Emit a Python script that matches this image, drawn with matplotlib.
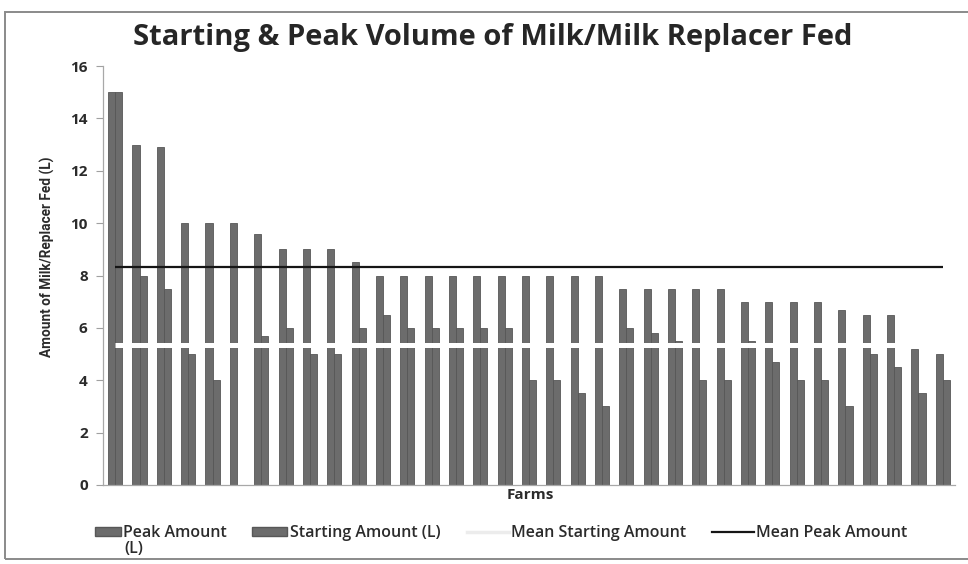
import numpy as np
import matplotlib
matplotlib.use("Agg")
import matplotlib.pyplot as plt
from matplotlib.patches import Patch, Rectangle
from matplotlib.lines import Line2D

# Farms, sorted by peak volume fed (litres)
farms = list(range(1, 36))
peak_amount = [15, 13, 12.9, 10, 10, 10, 9.6, 9, 9, 9, 8.5,
               8, 8, 8, 8, 8, 8, 8, 8, 8, 8,
               7.5, 7.5, 7.5, 7.5, 7.5, 7, 7, 7, 7,
               6.7, 6.5, 6.5, 5.2, 5.0]
starting_amount = [15, 8, 7.5, 5, 4, np.nan, 5.7, 6, 5, 5, 6,
                   6.5, 6, 6, 6, 6, 6, 4, 4, 3.5, 3,
                   6, 5.8, 5.5, 4, 4, 5.5, 4.7, 4, 4,
                   3, 5, 4.5, 3.5, 4]
y_ticks = [0, 2, 4, 6, 8, 10, 12, 14, 16]

peak = np.array(peak_amount, dtype=float)
start = np.array(starting_amount, dtype=float)
mean_peak = np.nanmean(peak)
mean_start = np.nanmean(start)

BAR = "#6c6c6c"
EDGE = "#575757"
TXT = "#2b2b2b"
FONT = ["Open Sans", "DejaVu Sans"]
LEG_SIZE = 11.5

fig = plt.figure(figsize=(9.68, 5.64), dpi=100)
fig.patch.set_facecolor("white")

# outer chart frame
fig.add_artist(Rectangle((5 / 968, 5 / 564), 970 / 968, 547 / 564,
                         transform=fig.transFigure, fill=False,
                         edgecolor="#8a8a8a", linewidth=1.4))

ax = fig.add_axes([103 / 968, 1 - 485 / 564, 852 / 968, (485 - 66) / 564])
x = np.arange(len(farms))
w = 0.29
ax.bar(x - w / 2, peak, width=w, color=BAR, edgecolor=EDGE, linewidth=0.6,
       zorder=2)
ax.bar(x + w / 2, np.nan_to_num(start), width=w, color=BAR, edgecolor=EDGE,
       linewidth=0.6, zorder=2)
ax.plot(x, np.full(len(x), mean_start), color="white", linewidth=3.6,
        zorder=3, solid_capstyle="butt")
ax.plot(x, np.full(len(x), mean_peak), color="#151515", linewidth=1.6,
        zorder=4, solid_capstyle="butt")

ax.set_xlim(-0.5, len(farms) - 0.5)
ax.set_ylim(0, 16)
ax.set_yticks(y_ticks)
ax.set_yticklabels([str(t) for t in y_ticks], fontfamily=FONT,
                   fontweight="bold", fontsize=11, color=TXT)
ax.set_xticks([])
ax.tick_params(axis="y", direction="out", length=5, width=0.8,
               color="#a0a0a0", pad=6)
for side in ("top", "right"):
    ax.spines[side].set_visible(False)
for side in ("left", "bottom"):
    ax.spines[side].set_color("#a8a8a8")
    ax.spines[side].set_linewidth(0.9)

fig.text(530 / 968, 1 - 495 / 564, "Farms", ha="center", va="center",
         fontfamily=FONT, fontweight="bold", fontsize=11, color=TXT)
fig.text(47 / 968, 1 - 257 / 564, "Amount of Milk/Replacer Fed (L)",
         rotation=90, ha="center", va="center",
         fontfamily=["Roboto", "DejaVu Sans"],
         fontweight="bold", fontsize=9.8, color=TXT)
fig.text(493 / 968, 1 - 38 / 564,
         "Starting & Peak Volume of Milk/Milk Replacer Fed",
         ha="center", va="center", fontfamily=FONT,
         fontweight="bold", fontsize=21, color="#262626")

# legend entries, laid out along the bottom of the frame
entries = [
    (Patch(facecolor=BAR, edgecolor=EDGE), "Peak Amount", 95, 1.6),
    (Patch(facecolor=BAR, edgecolor=EDGE), "Starting Amount (L)", 252, 2.2),
    (Line2D([], [], color="#ececec", linewidth=2.5), "Mean Starting Amount",
     467, 2.6),
    (Line2D([], [], color="#151515", linewidth=1.6), "Mean Peak Amount",
     712, 2.6),
]
for handle, label, xpix, hlen in entries:
    leg = fig.legend([handle], [label], loc="upper left",
                     bbox_to_anchor=(xpix / 968, 1 - 525 / 564),
                     frameon=False, handlelength=hlen, handleheight=0.45,
                     handletextpad=0.15, borderpad=0, borderaxespad=0,
                     prop={"family": FONT, "weight": "semibold",
                           "size": LEG_SIZE})
    for t in leg.get_texts():
        t.set_color(TXT)
# second line of the first legend label
fig.text(124 / 968, 1 - 549 / 564, "(L)", ha="left", va="center",
         fontfamily=FONT, fontweight="semibold", fontsize=LEG_SIZE, color=TXT)

fig.savefig("out.png", dpi=100, facecolor="white")
